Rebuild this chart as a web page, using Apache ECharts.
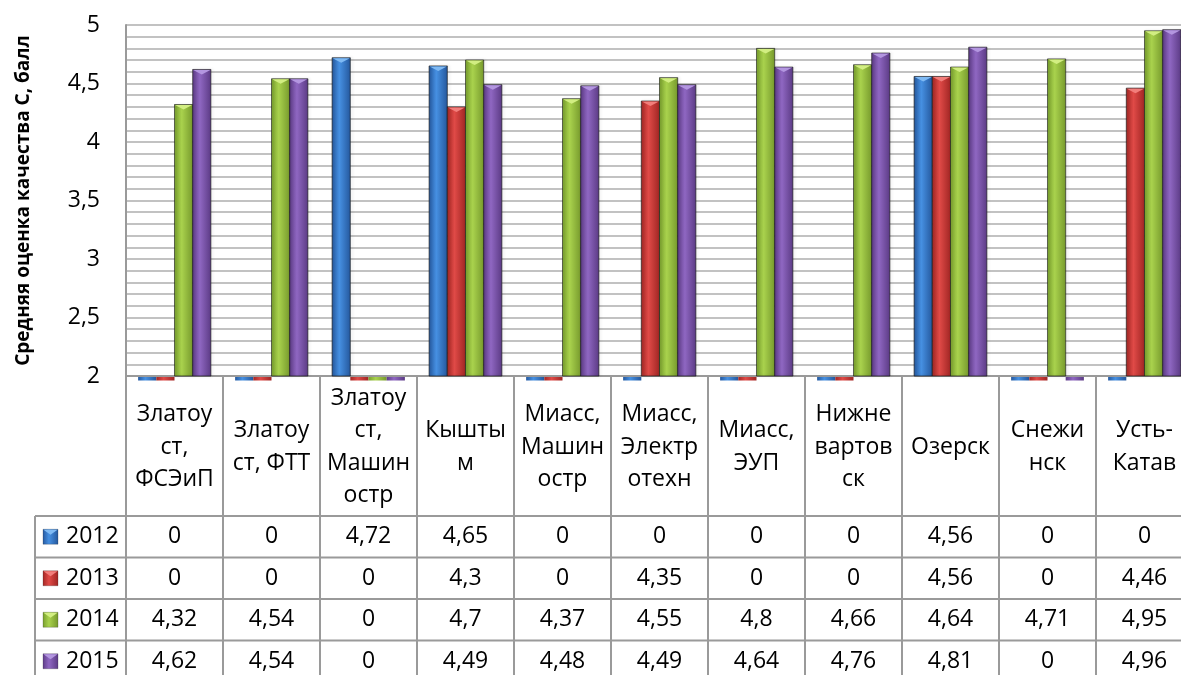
<!DOCTYPE html>
<html>
<head>
<meta charset="utf-8">
<script src="https://cdn.jsdelivr.net/npm/echarts@6/dist/echarts.min.js"></script>
<style>
html,body{margin:0;padding:0;background:#fff;}
#chart{width:1181px;height:675px;}
</style>
</head>
<body>
<div id="chart"></div>
<script>
// ---- DATA ----
const categories = [
  "Златоу\nст,\nФСЭиП",
  "Златоу\nст, ФТТ",
  "Златоу\nст,\nМашин\nостр",
  "Кышты\nм",
  "Миасс,\nМашин\nостр",
  "Миасс,\nЭлектр\nотехн",
  "Миасс,\nЭУП",
  "Нижне\nвартов\nск",
  "Озерск",
  "Снежи\nнск",
  "Усть-\nКатав"
];
const seriesNames = ["2012", "2013", "2014", "2015"];
const values2012 = [0, 0, 4.72, 4.65, 0, 0, 0, 0, 4.56, 0, 0];
const values2013 = [0, 0, 0, 4.3, 0, 4.35, 0, 0, 4.56, 0, 4.46];
const values2014 = [4.32, 4.54, 0, 4.7, 4.37, 4.55, 4.8, 4.66, 4.64, 4.71, 4.95];
const values2015 = [4.62, 4.54, 0, 4.49, 4.48, 4.49, 4.64, 4.76, 4.81, 0, 4.96];
const yTitle = "Средняя оценка качества С, балл";
const yMin = 2, yMax = 5, yStep = 0.1, yLabelStep = 0.5;

// ---- STYLE ----
const FONT = "'Open Sans', 'Noto Sans', sans-serif";
// [edge dark, center light, edge right, top bevel]
const palettes = [
  ["#2559a0", "#4690e2", "#24579c", "#7fbaf4"],
  ["#a32724", "#e04a47", "#9f2523", "#f27e7b"],
  ["#789f2d", "#a9d24d", "#76992c", "#d2ee82"],
  ["#5e3c88", "#8f67c2", "#5b3a84", "#b396e0"]
];
const lineColor = "#9a9a9a";
function grad(p) {
  return new echarts.graphic.LinearGradient(0, 0, 1, 0, [
    {offset: 0, color: p[0]}, {offset: 0.4, color: p[1]}, {offset: 1, color: p[2]}
  ]);
}
const allValues = [values2012, values2013, values2014, values2015];
const fmt = v => String(v).replace('.', ',');
const nSeries = seriesNames.length;

function makeRenderItem(s) {
  return function (params, api) {
    const i = api.value(0);
    const v = api.value(1);
    const band = api.size([1, 0])[0];
    const barW = band * 0.75 / nSeries;
    const cx = api.coord([i, yMin])[0];
    const base = api.coord([i, yMin])[1];
    const left = cx - barW * nSeries / 2 + s * barW;
    const p = palettes[s];
    if (v < yMin) {
      // bar clipped by the axis: only a stub shows under the axis line
      return {type: 'rect', shape: {x: left, y: base + 1, width: barW, height: 3.5},
        style: {fill: grad(p)}};
    }
    const top = api.coord([i, v])[1];
    const bev = Math.min(5, (base - top) / 2);
    return {
      type: 'group',
      children: [
        {type: 'rect', shape: {x: left, y: top, width: barW, height: base - top},
          style: {fill: grad(p), stroke: 'rgba(30,30,30,0.55)', lineWidth: 0.7,
            shadowColor: 'rgba(0,0,0,0.25)', shadowBlur: 3, shadowOffsetX: 1.5}},
        {type: 'polygon', shape: {points: [[left + 0.5, top + 0.5], [left + barW - 0.5, top + 0.5], [left + barW / 2, top + bev]]},
          style: {fill: p[3]}}
      ]
    };
  };
}

const chart = echarts.init(document.getElementById('chart'), null, {renderer: 'canvas'});
const option = {
  animation: false,
  backgroundColor: '#fff',
  grid: {left: 126, top: 25, width: 1067, height: 351, containLabel: false, outerBoundsMode: 'none'},
  xAxis: {
    type: 'category',
    data: categories,
    axisLine: {show: true, lineStyle: {color: lineColor, width: 2}},
    axisTick: {show: false},
    axisLabel: {
      interval: 0, margin: 71, verticalAlign: 'middle', align: 'center',
      fontFamily: FONT, fontSize: 23, lineHeight: 32.5, color: '#000'
    },
    splitLine: {show: false}
  },
  yAxis: {
    type: 'value', min: yMin, max: yMax, interval: yStep,
    name: yTitle, nameLocation: 'middle', nameGap: 93, nameRotate: 90,
    nameTextStyle: {fontFamily: FONT, fontSize: 19, fontWeight: 'bold', color: '#000'},
    axisLine: {show: true, lineStyle: {color: lineColor, width: 2}},
    axisTick: {show: false},
    axisLabel: {
      margin: 26, fontFamily: FONT, fontSize: 23, color: '#000',
      formatter: v => {
        const r = Math.round(v / yStep);
        const k = Math.round(yLabelStep / yStep);
        return r % k === 0 ? fmt(Math.round(v * 10) / 10) : '';
      }
    },
    splitLine: {show: true, lineStyle: {color: '#c2c2c2', width: 2}}
  },
  series: allValues.map((vals, s) => ({
    name: seriesNames[s],
    type: 'custom',
    renderItem: makeRenderItem(s),
    encode: {x: 0, y: 1},
    clip: false,
    data: vals.map((v, i) => [i, v])
  }))
};
chart.setOption(option);

// ---- data table + legend keys placed from the axis scales ----
const rect = chart.getModel().getComponent('grid').coordinateSystem.getRect();
const n = categories.length;
const colW = rect.width / n;
const axisY = rect.y + rect.height;
const headerBottom = 516;
const rowH = 41.5;
const tableLeft = 35;
const bottomY = 700;
const gfx = [];
for (let k = 0; k <= n; k++) {
  const x = rect.x + k * colW;
  gfx.push({type: 'line', shape: {x1: x, y1: axisY, x2: x, y2: bottomY},
    style: {stroke: lineColor, lineWidth: 2}, z: 10});
}
gfx.push({type: 'line', shape: {x1: tableLeft, y1: headerBottom, x2: tableLeft, y2: bottomY},
  style: {stroke: lineColor, lineWidth: 2}, z: 10});
for (let r = 0; r <= nSeries; r++) {
  const y = headerBottom + r * rowH;
  gfx.push({type: 'line', shape: {x1: tableLeft, y1: y, x2: rect.x + rect.width, y2: y},
    style: {stroke: lineColor, lineWidth: 2}, z: 10});
}
seriesNames.forEach((nm, r) => {
  const cy = headerBottom + r * rowH + rowH / 2;
  gfx.push({type: 'rect', shape: {x: 43, y: cy - 7.5, width: 15, height: 15},
    style: {fill: grad(palettes[r]), stroke: 'rgba(40,40,40,0.4)', lineWidth: 0.6}, z: 11});
  gfx.push({type: 'polygon', shape: {points: [[43.5, cy - 7], [57.5, cy - 7], [50.5, cy - 2]]},
    style: {fill: palettes[r][3]}, z: 12});
  gfx.push({type: 'text', x: 66, y: cy, style: {text: nm, font: '23px ' + FONT, fill: '#000',
    textAlign: 'left', textVerticalAlign: 'middle'}, z: 11});
  allValues[r].forEach((v, i) => {
    const cx = chart.convertToPixel({xAxisIndex: 0}, i);
    gfx.push({type: 'text', x: cx, y: cy, style: {text: fmt(v), font: '23px ' + FONT, fill: '#000',
      textAlign: 'center', textVerticalAlign: 'middle'}, z: 11});
  });
});
chart.setOption({graphic: gfx});
</script>
</body>
</html>
